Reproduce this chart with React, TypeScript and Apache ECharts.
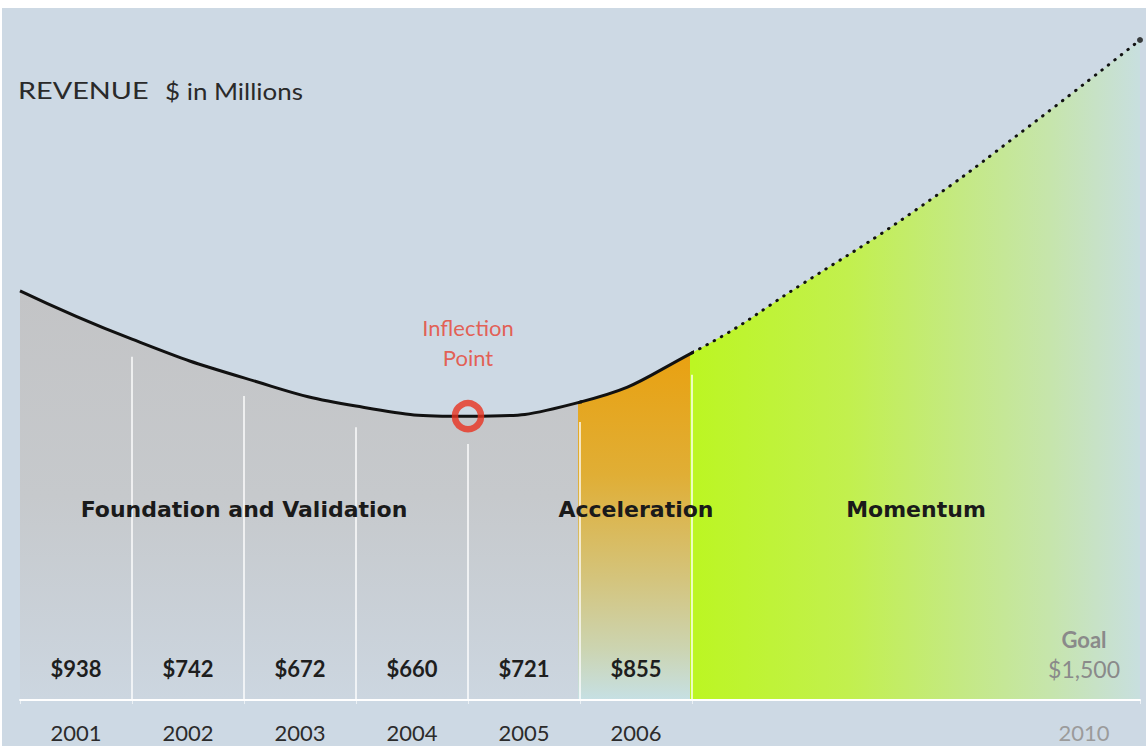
import React, { useEffect, useRef } from 'react';
import * as echarts from 'echarts';

// ---- data ----
const years = ['2001', '2002', '2003', '2004', '2005', '2006', '2007', '2008', '2009', '2010'];
const revenue = [938, 742, 672, 660, 721, 855]; // $ in millions, 2001-2006
const goal = 1500; // 2010 goal
// illustrative trend curve, sampled at the column boundaries (0 = start of 2001 ... 10 = end of 2010)
const curveX = [0, 1, 2, 3, 4, 5, 6, 7, 8, 9, 10];
const curveValues = [930, 820, 732, 668, 645, 677, 789, 948, 1114, 1302, 1500];
// white separators between years: x position and the value where each starts
const separatorX = [1, 2, 3, 4, 5, 6];
const separatorTop = [780, 691, 620, 582, 632, 739];
const sectionNames = ['Foundation and Validation', 'Acceleration', 'Momentum'];
const sectionFrom = [0, 5, 6];
const sectionTo = [4, 6, 10];
const inflectionIndex = 4;
const solidEnd = 6; // curve drawn solid up to here, dotted after

const FONT = 'Lato, "DejaVu Sans", sans-serif';
const HEAVY = '"DejaVu Sans", Lato, sans-serif';
const BG = '#cdd9e4';

export default function App() {
  const ref = useRef<HTMLDivElement>(null);

  useEffect(() => {
    const chart = echarts.init(ref.current!, null, { renderer: 'svg' });
    const curve = curveX.map((x, i) => [x, curveValues[i]]);

    const grayFill = new echarts.graphic.LinearGradient(0, 291, 0, 700, [
      { offset: 0, color: '#c3c4c6' },
      { offset: 0.5, color: '#c6c9cc' },
      { offset: 1, color: '#ccd6e0' },
    ], true);
    const orangeFill = new echarts.graphic.LinearGradient(0, 353, 0, 700, [
      { offset: 0, color: '#e9a111' },
      { offset: 0.35, color: '#e0ae35' },
      { offset: 0.65, color: '#d4c47c' },
      { offset: 0.85, color: '#ccd4b0' },
      { offset: 1, color: '#c6e0e4' },
    ], true);
    const limeFill = new echarts.graphic.LinearGradient(692, 0, 1140, 0, [
      { offset: 0, color: '#bcf622' },
      { offset: 0.35, color: '#c2f04e' },
      { offset: 0.6, color: '#c4e983' },
      { offset: 0.8, color: '#c6e5ac' },
      { offset: 1, color: '#c8dfdf' },
    ], true);

    const yAx = (i: number) => ({ gridIndex: i, type: 'value', min: 0, max: 1550, show: false });

    const option: any = {
      animation: false,
      backgroundColor: '#ffffff',
      graphic: [
        { type: 'rect', z: -10, shape: { x: 2, y: 8, width: 1144, height: 738 }, style: { fill: BG } },
        {
          type: 'text', z: 100, x: 18, y: 90, scaleX: 1.2,
          style: { text: 'REVENUE', fontSize: 24, fontFamily: FONT, fill: '#2a2a2a', verticalAlign: 'middle' },
        },
        {
          type: 'text', z: 100, x: 165, y: 90, scaleX: 1.08,
          style: { text: '$ in Millions', fontSize: 24, fontFamily: FONT, fill: '#2a2a2a', verticalAlign: 'middle' },
        },
      ],
      grid: [
        { left: 20, top: 18, width: 560, height: 682 },
        { left: 580, top: 18, width: 112, height: 682 },
        { left: 692, top: 18, width: 448, height: 682 },
        { left: 20, top: 18, width: 1120, height: 682 },
      ],
      xAxis: [
        { gridIndex: 0, type: 'value', min: 0, max: 5, show: false },
        { gridIndex: 1, type: 'value', min: 5, max: solidEnd, show: false },
        { gridIndex: 2, type: 'value', min: solidEnd, max: 10, show: false },
        { gridIndex: 3, type: 'value', min: 0, max: 10, show: false, position: 'bottom' },
        {
          gridIndex: 3, type: 'category', data: years, position: 'bottom', boundaryGap: true, z: 10,
          axisLine: { show: true, lineStyle: { color: '#ffffff', width: 2 } },
          axisTick: {
            show: true, length: 4, lineStyle: { color: 'rgba(255,255,255,0.6)', width: 1 },
            interval: (i: number) => i <= revenue.length,
          },
          splitLine: { show: false },
          axisLabel: {
            interval: 0, margin: 19,
            formatter: (v: string, i: number) => (i === years.length - 1 ? `{g|${v}}` : i < revenue.length ? `{n|${v}}` : ''),
            rich: {
              n: { fontSize: 22, lineHeight: 26, fontFamily: FONT, color: '#2b2b2b' },
              g: { fontSize: 22, lineHeight: 26, fontFamily: FONT, color: '#9b9b9b' },
            },
          },
        },
        {
          gridIndex: 3, type: 'category', data: years, position: 'bottom', boundaryGap: true, z: 10,
          axisLine: { show: false }, axisTick: { show: false }, splitLine: { show: false },
          axisLabel: {
            interval: 0, inside: true, margin: 17.5,
            formatter: (_v: string, i: number) =>
              i < revenue.length
                ? `{v|$${revenue[i]}}`
                : i === years.length - 1
                  ? `{gl|Goal}\n{gv|$${goal.toLocaleString('en-US')}}`
                  : '',
            rich: {
              v: { fontSize: 22, fontFamily: FONT, fontWeight: 'bold', color: '#1e1e1e', lineHeight: 28 },
              gl: { fontSize: 22, fontFamily: FONT, fontWeight: 'bold', color: '#8a8a8a', lineHeight: 30 },
              gv: { fontSize: 23, fontFamily: FONT, color: '#8a8a8a', lineHeight: 28 },
            },
          },
        },
      ],
      yAxis: [yAx(0), yAx(1), yAx(2), yAx(3)],
      series: [
        {
          type: 'line', xAxisIndex: 0, yAxisIndex: 0, data: curve, smooth: true, showSymbol: false, z: 2,
          lineStyle: { color: '#111111', width: 3 }, areaStyle: { color: grayFill, opacity: 1 },
        },
        {
          type: 'line', xAxisIndex: 1, yAxisIndex: 1, data: curve, smooth: true, showSymbol: false, z: 2,
          lineStyle: { color: '#111111', width: 3 }, areaStyle: { color: orangeFill, opacity: 1 },
        },
        {
          type: 'line', xAxisIndex: 2, yAxisIndex: 2, data: curve, smooth: true, showSymbol: false, z: 2,
          lineStyle: { color: '#111111', width: 3, type: [0.5, 7.8], cap: 'round' },
          areaStyle: { color: limeFill, opacity: 1 },
        },
        {
          type: 'scatter', xAxisIndex: 3, yAxisIndex: 3, clip: false, z: 5,
          data: [[curveX[inflectionIndex], curveValues[inflectionIndex]]],
          symbol: 'circle', symbolSize: 26,
          itemStyle: { color: 'rgba(0,0,0,0)', borderColor: '#e8321f', borderWidth: 6.5 },
          label: {
            show: true, position: 'top', distance: 27, formatter: 'Inflection\nPoint',
            fontSize: 22, lineHeight: 30, fontFamily: FONT, color: '#e8402f', align: 'center',
          },
          markLine: {
            silent: true, symbol: 'none', label: { show: false }, z: 6,
            lineStyle: { color: '#ffffff', width: 1.5, type: 'solid', opacity: 0.95 },
            data: separatorX.map((x, i) => [{ coord: [x, 0] }, { coord: [x, separatorTop[i]] }]),
          },
          markArea: {
            silent: true, z: 10,
            itemStyle: { color: 'rgba(0,0,0,0)' },
            label: {
              show: true, position: 'inside', fontSize: 22, fontWeight: 'bold', fontFamily: HEAVY, color: '#1a1a1a',
            },
            data: sectionNames.map((n, i) => [
              { name: n, coord: [sectionFrom[i], 0] },
              { coord: [sectionTo[i], 868] },
            ]),
          },
        },
        {
          type: 'scatter', xAxisIndex: 3, yAxisIndex: 3, clip: false, z: 4,
          data: [[curveX[curveX.length - 1], goal]], symbol: 'circle', symbolSize: 6,
          itemStyle: { color: '#111111' },
        },
      ],
    };
    chart.setOption(option);
    return () => chart.dispose();
  }, []);

  return (
    <div style={{ position: 'absolute', left: 0, top: 0, width: 1146, height: 746, background: '#ffffff' }}>
      <div ref={ref} style={{ width: 1146, height: 746 }} />
    </div>
  );
}
